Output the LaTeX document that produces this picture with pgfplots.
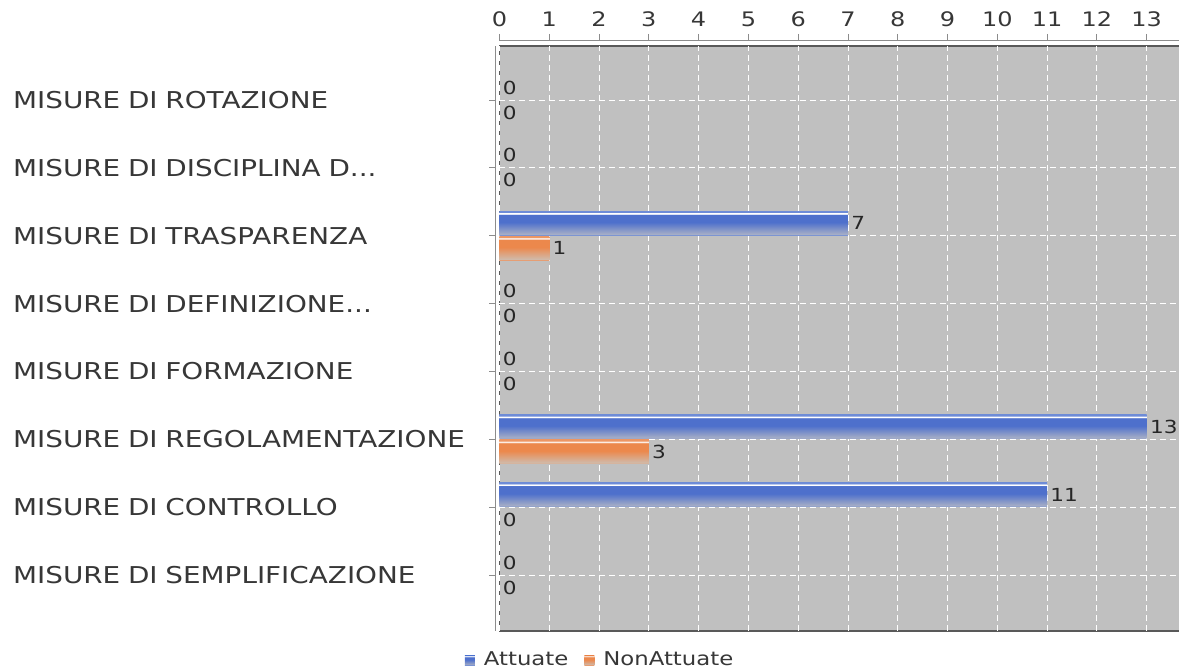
\documentclass[border=0pt]{standalone}
\usepackage{fontspec}
\setmainfont[FakeStretch=1.2]{DejaVu Sans}
\usepackage{pgfplots}
\pgfplotsset{compat=1.18}

\definecolor{plotbg}{RGB}{192,192,192}
\definecolor{txt}{RGB}{55,55,55}
\definecolor{blueA}{RGB}{78,112,204}
\definecolor{blueB}{RGB}{166,174,198}
\definecolor{blueE}{RGB}{110,140,215}
\definecolor{orA}{RGB}{236,136,76}
\definecolor{orB}{RGB}{208,186,170}
\definecolor{orE}{RGB}{236,150,100}

% bar box maps to 25bp..75bp of the shading
\pgfdeclareverticalshading{barblue}{100bp}{color(0bp)=(blueE); color(25bp)=(blueE);
  color(27bp)=(blueB); color(52bp)=(blueA); color(68bp)=(blueA);
  color(69.5bp)=(white); color(71.5bp)=(white); color(73bp)=(blueE);
  color(75bp)=(blueE); color(100bp)=(blueE)}
\pgfdeclareverticalshading{barorange}{100bp}{color(0bp)=(orE); color(25bp)=(orE);
  color(27bp)=(orB); color(52bp)=(orA); color(68bp)=(orA);
  color(69.5bp)=(white!85!orA); color(71.5bp)=(white!85!orA); color(73bp)=(orE);
  color(75bp)=(orE); color(100bp)=(orE)}

\pgfplotsset{
  attuate/.style={bar shift=6.25pt, draw=none, shading=barblue},
  nonattuate/.style={bar shift=-6.25pt, draw=none, shading=barorange},
  labels/.style={draw=none, fill=none, nodes near coords},
}

\begin{document}
\begin{tikzpicture}
\path[use as bounding box] (0,0) rectangle (589.5pt,334.5pt);
\begin{axis}[
    at={(249.75pt,19pt)}, anchor=south west,
    scale only axis, width=341pt, height=292.5pt,
    xbar, bar width=12pt,
    xmin=0, xmax=13.7, ymin=-0.825, ymax=7.796,
    xtick={0,...,13}, ytick={0,...,7},
    yticklabels={{MISURE DI SEMPLIFICAZIONE}, {MISURE DI CONTROLLO},
        {MISURE DI REGOLAMENTAZIONE}, {MISURE DI FORMAZIONE},
        {MISURE DI DEFINIZIONE.\kern0pt.\kern0pt.}, {MISURE DI TRASPARENZA},
        {MISURE DI DISCIPLINA D.\kern0pt.\kern0pt.}, {MISURE DI ROTAZIONE}},
    axis x line*=top, axis y line*=left,
    axis x line shift=3pt, axis y line shift=2pt,
    axis line style={draw=gray!90},
    axis background/.style={fill=plotbg, draw=gray!70!black, line width=0.8pt},
    tick style={draw=gray!90, line width=0.4pt},
    major tick length=3pt, tick align=outside,
    grid=major, grid style={white, densely dashed, line width=0.4pt},
    /pgf/number format/assume math mode=true,
    xticklabel style={font=\fontsize{10}{12}\selectfont, text=txt},
    yticklabel style={font=\fontsize{11.6}{13}\selectfont, text=txt,
        text width=238pt, align=left, inner sep=0pt},
    nodes near coords style={font=\fontsize{9}{10}\selectfont, text=black!85,
        anchor=west, inner sep=1.5pt},
    legend style={at={(axis description cs:0.149,-0.05)}, anchor=center,
        draw=none, fill=none, legend columns=-1,
        font=\fontsize{9.5}{11}\selectfont, text=txt,
        /tikz/every odd column/.append style={column sep=2.5pt},
        /tikz/every even column/.append style={column sep=6pt}},
    legend image code/.code={\path[#1, draw=none] (0pt,-2.5pt) rectangle (5pt,2.5pt);},
]
% Attuate bars
\addplot[attuate, forget plot] coordinates {(7,5)};
\addplot[attuate, forget plot] coordinates {(13,2)};
\addplot[attuate, forget plot] coordinates {(11,1)};
% NonAttuate bars
\addplot[nonattuate, forget plot] coordinates {(1,5)};
\addplot[nonattuate, forget plot] coordinates {(3,2)};
% value labels
\addplot[labels, bar shift=6.25pt, forget plot] coordinates {
    (0,7) (0,6) (7,5) (0,4) (0,3) (13,2) (11,1) (0,0)
};
\addplot[labels, bar shift=-6.25pt, forget plot] coordinates {
    (0,7) (0,6) (1,5) (0,4) (0,3) (3,2) (0,1) (0,0)
};
\addlegendimage{shading=barblue}
\addlegendentry{Attuate}
\addlegendimage{shading=barorange}
\addlegendentry{NonAttuate}
\end{axis}
\end{tikzpicture}
\end{document}
